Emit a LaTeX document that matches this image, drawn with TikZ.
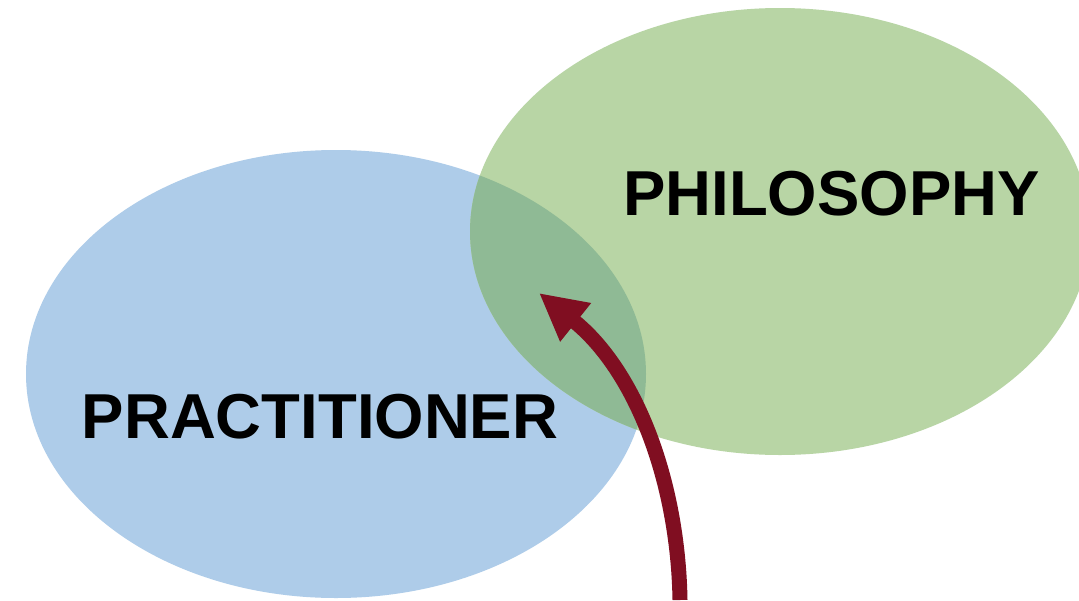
\documentclass[tikz,border=0pt]{standalone}
\usepackage{fontspec}
\setmainfont{Liberation Sans}
\usetikzlibrary{arrows.meta}
\definecolor{blueC}{RGB}{174,204,233}
\definecolor{greenC}{RGB}{184,213,165}
\definecolor{overlapC}{RGB}{143,186,149}
\definecolor{arrowC}{RGB}{128,14,33}
\tikzset{
  label text/.style={inner sep=0pt, anchor=base, font=\fontsize{63.5}{70}\selectfont\bfseries, text=black},
  bigarrow/.style={draw=arrowC, line width=15pt, -{Triangle[length=47pt,width=46pt]}},
}
\begin{document}
\begin{tikzpicture}[x=1pt,y=-1pt]
\useasboundingbox (0,0) rectangle (1079,600);
\fill[white] (0,0) rectangle (1079,600);
\fill[blueC] (336,374) ellipse [x radius=310, y radius=224];
\fill[greenC] (780,231.5) ellipse [x radius=310, y radius=223.5];
\begin{scope}
  \clip (336,374) ellipse [x radius=310, y radius=224];
  \fill[overlapC] (780,231.5) ellipse [x radius=310, y radius=223.5];
\end{scope}
\node[label text] (prac) at (320,438) {PRACTITIONER};
\node[label text] (phil) at (831.5,215) {PHILOSOPHY};
\coordinate (astart) at (680,600);
\coordinate (aend) at (539,293);
\draw[bigarrow] (astart) .. controls (678,480) and (635,370) .. (aend);
\end{tikzpicture}
\end{document}
